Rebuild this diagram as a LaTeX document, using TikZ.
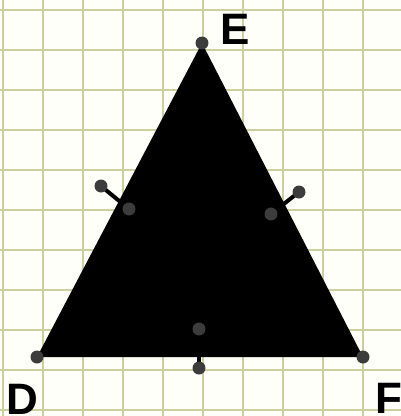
\documentclass[tikz,border=0pt]{standalone}
\usepackage{fontspec}
\setmainfont{Liberation Sans}
\usepackage{xcolor}
\usepackage{tikz}
\usetikzlibrary{positioning}

\definecolor{paper}{RGB}{255,255,249}
\definecolor{gridcol}{RGB}{204,207,158}
\definecolor{dotcol}{RGB}{60,60,60}

\tikzset{
  gridline/.style={draw=gridcol, line width=2.3pt},
  dot/.style={circle, fill=dotcol, inner sep=0pt, minimum size=13pt},
  tick/.style={draw=black, line width=4pt},
  lbl/.style={font=\fontsize{44}{44}\selectfont\bfseries, inner sep=0pt}
}

\begin{document}
\begin{tikzpicture}[x=1pt, y=-1pt]
  \fill[paper] (0,0) rectangle (401,416);
  \useasboundingbox (0,0) rectangle (401,416);
  % grid paper
  \foreach \gx in {3,43,...,403} \draw[gridline] (\gx,0) -- (\gx,416);
  \foreach \gy in {10,50,...,410} \draw[gridline] (0,\gy) -- (401,\gy);

  \coordinate (D) at (37,357);
  \coordinate (E) at (202,43);
  \coordinate (F) at (363,357);
  \fill[black] (D) -- (E) -- (F) -- cycle;

  % bisector ticks
  \coordinate (DEout) at (101,186);
  \coordinate (DEin) at (129,209);
  \coordinate (EFout) at (299,192);
  \coordinate (EFin) at (271,214);
  \coordinate (DFin) at (199,329);
  \coordinate (DFout) at (199,368);
  \draw[tick] (DEout) -- (DEin);
  \draw[tick] (EFout) -- (EFin);
  \draw[tick] (DFin) -- (DFout);

  \foreach \p in {D,E,F,DEout,DEin,EFout,EFin,DFin,DFout}
    \node[dot] (dot\p) at (\p) {};

  \node[lbl] (labE) at (235,29) {E};
  \node[lbl] (labD) at (22,399) {D};
  \node[lbl] (labF) at (389,398) {F};
\end{tikzpicture}
\end{document}
